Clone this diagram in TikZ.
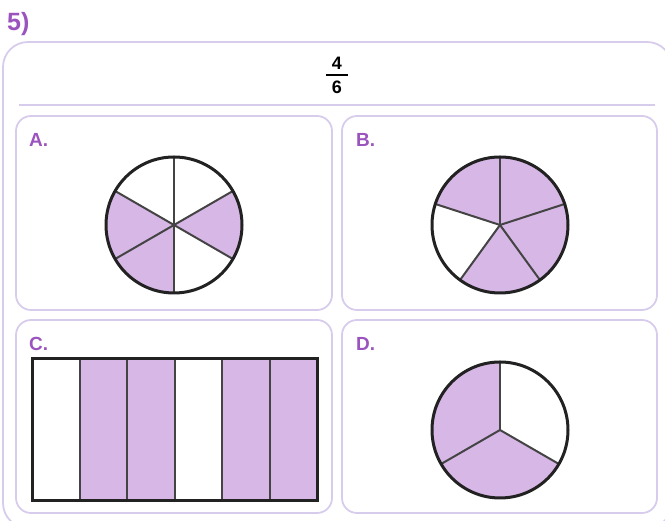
\documentclass[tikz,border=0pt]{standalone}
\usepackage{fontspec}
\setmainfont{Liberation Sans}
\definecolor{lilac}{RGB}{215,183,230}
\definecolor{frame}{RGB}{216,204,236}
\definecolor{labelpurple}{RGB}{155,84,190}
\definecolor{ink}{RGB}{34,34,34}
\definecolor{spoke}{RGB}{68,68,68}
\tikzset{
  panel/.style={draw=frame,line width=1.8pt,rounded corners=15pt},
  optlabel/.style={anchor=west,inner sep=0pt,text=labelpurple,font=\fontsize{19}{22}\selectfont\bfseries},
  rim/.style={draw=ink,line width=3pt},
  divider/.style={draw=spoke,line width=2pt}
}
\begin{document}
\begin{tikzpicture}[x=1pt,y=1pt]
\useasboundingbox (0,0) rectangle (665,521);
\begin{scope}
\clip (0,0) rectangle (665,521);
\draw[panel,rounded corners=25pt] (3,479) rectangle (672,-7);
\end{scope}
\node[optlabel,font=\fontsize{25}{28}\selectfont\bfseries] (num) at (7,497) {5)};
\draw[frame,line width=1.8pt] (19,416)--(655,416);
% fraction
\node[inner sep=0pt,font=\fontsize{18}{21}\selectfont\bfseries] (top) at (337,458) {4};
\node[inner sep=0pt,font=\fontsize{18}{21}\selectfont\bfseries] (bot) at (337,434) {6};
\draw[line width=2.4pt] (326,446)--(348,446);
% panels
\draw[panel] (16,405) rectangle (332,211);
\draw[panel] (342,405) rectangle (657,211);
\draw[panel] (16,201) rectangle (332,8);
\draw[panel] (342,201) rectangle (657,8);
\node[optlabel] (la) at (29,381) {A.};
\node[optlabel] (lb) at (356,381) {B.};
\node[optlabel] (lc) at (29,177) {C.};
\node[optlabel] (ld) at (356,177) {D.};
% A: sixths
\coordinate (A) at (174,296);
\fill[lilac] (A) -- ++(-30:68) arc[start angle=-30,end angle=30,radius=68] -- cycle;
\fill[lilac] (A) -- ++(150:68) arc[start angle=150,end angle=270,radius=68] -- cycle;
\foreach \a in {90,30,-30,-90,150,210} \draw[divider] (A) -- ++(\a:68);
\draw[rim] (A) circle[radius=68];
% B: fifths
\coordinate (B) at (500,296);
\fill[lilac] (B) -- ++(-126:68) arc[start angle=-126,end angle=162,radius=68] -- cycle;
\foreach \a in {90,18,-54,-126,162} \draw[divider] (B) -- ++(\a:68);
\draw[rim] (B) circle[radius=68];
% C: strips
\foreach \i in {1,2,4,5} \fill[lilac] (32+47.5*\i,162) rectangle (32+47.5*\i+47.5,20);
\foreach \i in {1,...,5} \draw[divider] (32+47.5*\i,162) -- (32+47.5*\i,20);
\draw[rim] (32,162) rectangle (317,20);
% D: thirds
\coordinate (D) at (500,91);
\fill[lilac] (D) -- ++(90:68) arc[start angle=90,end angle=330,radius=68] -- cycle;
\foreach \a in {90,-30,210} \draw[divider] (D) -- ++(\a:68);
\draw[rim] (D) circle[radius=68];
\end{tikzpicture}
\end{document}
